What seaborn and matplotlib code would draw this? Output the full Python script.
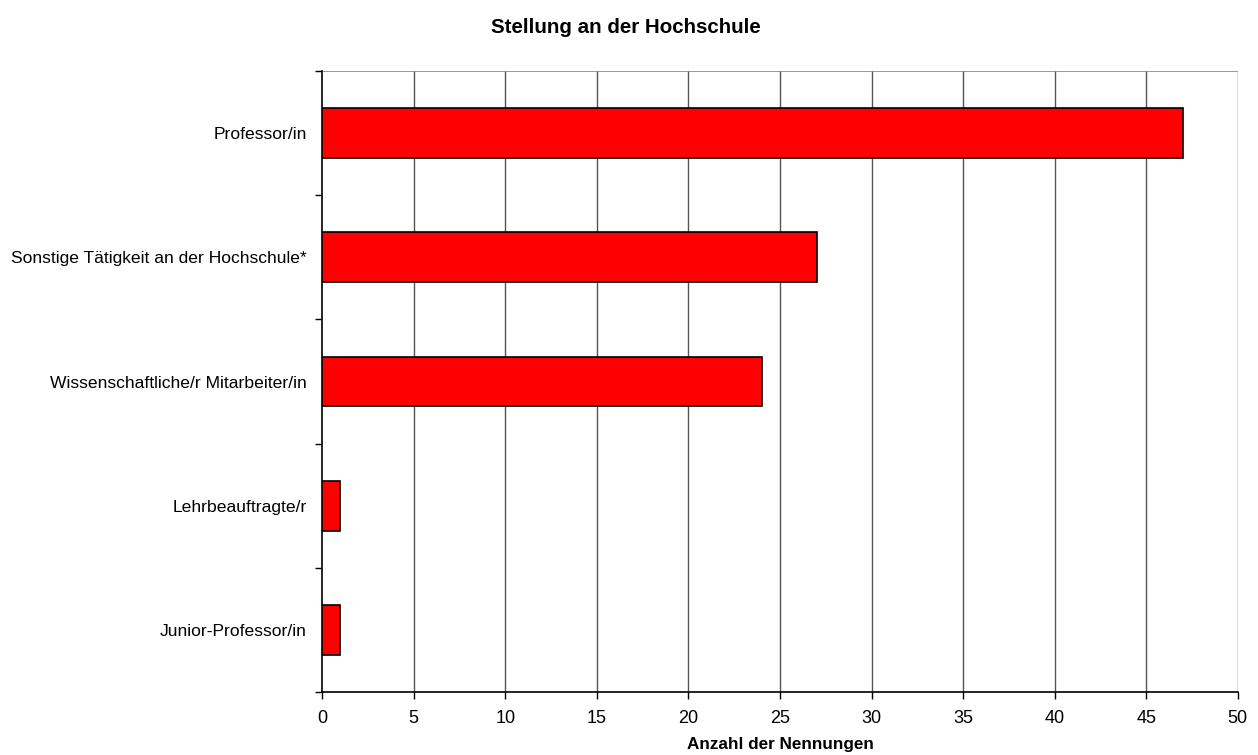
import matplotlib
matplotlib.use("Agg")
import matplotlib.pyplot as plt
import seaborn as sns
import pandas as pd
import numpy as np

categories = [
    "Professor/in",
    "Sonstige Tätigkeit an der Hochschule*",
    "Wissenschaftliche/r Mitarbeiter/in",
    "Lehrbeauftragte/r",
    "Junior-Professor/in",
]
counts = [47, 27, 24, 1, 1]
x_ticks = [0, 5, 10, 15, 20, 25, 30, 35, 40, 45, 50]

sns.set_theme(style="white")
plt.rcParams["font.family"] = ["Liberation Sans", "DejaVu Sans"]
plt.rcParams["text.color"] = "black"
plt.rcParams["axes.labelcolor"] = "black"
plt.rcParams["xtick.color"] = "black"
plt.rcParams["ytick.color"] = "black"
plt.rcParams["ytick.left"] = True
plt.rcParams["xtick.bottom"] = True

df = pd.DataFrame({"Stellung": categories, "Anzahl": counts})

fig = plt.figure(figsize=(12.58, 7.55), dpi=100)
ax = fig.add_axes([0.256, 0.0834, 0.728, 0.8226])

sns.barplot(data=df, y="Stellung", x="Anzahl", order=categories, orient="h",
            color="#ff0000", saturation=1, width=0.4,
            edgecolor="black", linewidth=1.2, ax=ax, zorder=3)

ax.set_xlim(0, 50)
ax.set_ylim(4.5, -0.5)
ax.set_xticks(x_ticks)
ax.set_xticklabels([str(t) for t in x_ticks], fontsize=13)
ax.tick_params(axis="y", which="major", left=False, length=0, labelsize=12.6, pad=11)
ax.set_yticks(np.arange(-0.5, 5.0, 1.0), minor=True)
ax.tick_params(axis="y", which="minor", left=True, length=5, width=1,
               color="black", direction="out")
ax.tick_params(axis="x", which="major", length=5, width=1, color="black",
               direction="out", bottom=True, pad=8)

for t in x_ticks[1:]:
    ax.axvline(t, color="#555555", linewidth=1, zorder=1)
ax.axhline(-0.5, color="#888888", linewidth=1.2, zorder=1)

for side in ["top", "right"]:
    ax.spines[side].set_visible(False)
for side in ["left", "bottom"]:
    ax.spines[side].set_visible(True)
    ax.spines[side].set_color("black")
    ax.spines[side].set_linewidth(1.2)

ax.set_ylabel("")
ax.set_xlabel("Anzahl der Nennungen", fontsize=12.3, fontweight="bold", labelpad=7)
fig.suptitle("Stellung an der Hochschule", fontsize=14.8, fontweight="bold",
             x=0.4976, y=0.976)

fig.savefig("out.png", dpi=100)
